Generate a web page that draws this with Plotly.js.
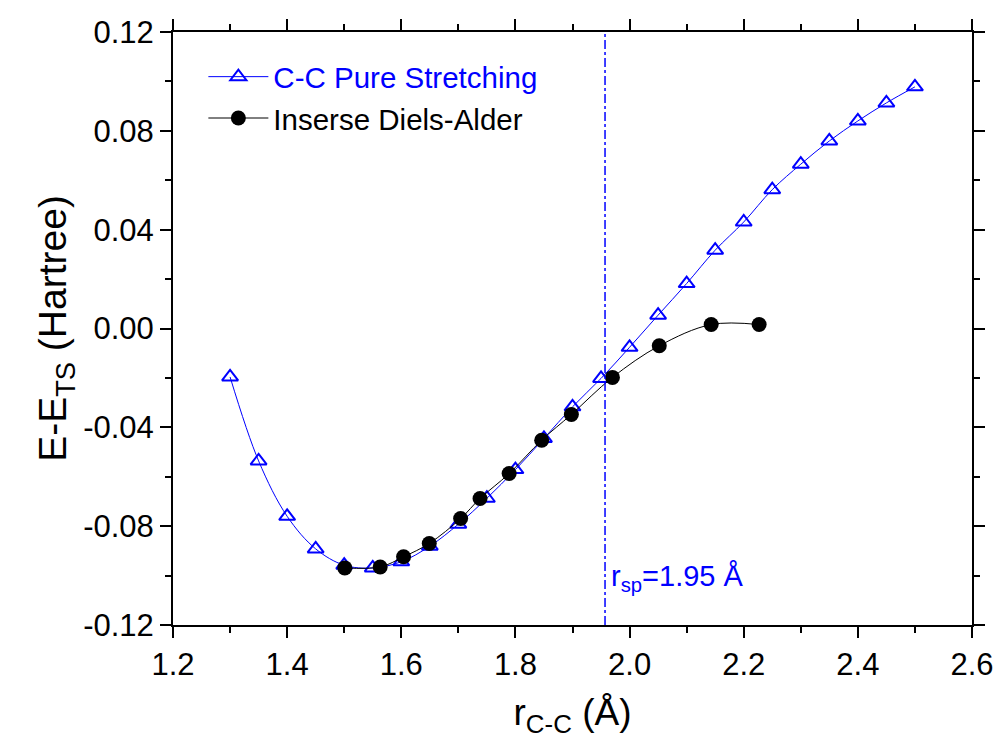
<!DOCTYPE html>
<html>
<head>
<meta charset="utf-8">
<script src="https://cdn.plot.ly/plotly-3.0.1.min.js"></script>
<style>html,body{margin:0;padding:0;background:#fff;}#chart{width:997px;height:738px;}</style>
</head>
<body>
<div id="chart"></div>
<script>
// C-C Pure Stretching
const stretchR = [1.30,1.35,1.40,1.45,1.50,1.55,1.60,1.65,1.70,1.75,1.80,1.85,1.90,1.95,2.00,2.05,2.10,2.15,2.20,2.25,2.30,2.35,2.40,2.45,2.50];
const stretchE = [-0.0196,-0.0536,-0.0760,-0.0892,-0.0958,-0.0969,-0.0944,-0.0881,-0.0792,-0.0687,-0.0571,-0.0445,-0.0317,-0.0202,-0.0076,0.0054,0.0182,0.0317,0.0431,0.0562,0.0665,0.0759,0.0840,0.0913,0.0978];
// Inverse Diels-Alder
const idaR = [1.501,1.563,1.604,1.649,1.704,1.738,1.789,1.846,1.898,1.970,2.052,2.143,2.227];
const idaE = [-0.0969,-0.0965,-0.0924,-0.0870,-0.0769,-0.0688,-0.0587,-0.0452,-0.0348,-0.0198,-0.0070,0.0016,0.0016];
const rsp = 1.957;
const rspLabel = 'r<sub>sp</sub>=1.95 Å';

const FONT = 'Liberation Sans, Arial, sans-serif';
const traces = [
  {x: stretchR, y: stretchE, mode: 'lines+markers', type: 'scatter',
   name: '<span style="color:#0000ff">C-C Pure Stretching</span>',
   line: {color: '#0000ff', width: 1, shape: 'spline'},
   marker: {symbol: 'triangle-up-open', size: 14, color: '#0000ff', line: {width: 2, color: '#0000ff'}}},
  {x: idaR, y: idaE, mode: 'lines+markers', type: 'scatter',
   name: 'Inserse Diels-Alder',
   line: {color: '#000000', width: 1, shape: 'spline'},
   marker: {symbol: 'circle', size: 15, color: '#000000'}}
];
const axisCommon = {
  showline: true, linecolor: '#000', linewidth: 2, mirror: 'allticks',
  ticks: 'outside', ticklen: 11, tickwidth: 2, tickcolor: '#000',
  showgrid: false, zeroline: false,
  tickfont: {family: FONT, size: 31, color: '#000'}
};
const layout = {
  width: 997, height: 738,
  margin: {l: 173, r: 25, t: 32, b: 113},
  paper_bgcolor: '#fff', plot_bgcolor: '#fff',
  font: {family: FONT, color: '#000'},
  showlegend: true,
  legend: {x: 0.038, y: 0.968, xanchor: 'left', yanchor: 'top', bgcolor: 'rgba(0,0,0,0)',
           font: {family: FONT, size: 29.5, color: '#000'}, tracegroupgap: 0, itemwidth: 60},
  xaxis: Object.assign({}, axisCommon, {
    range: [1.2, 2.6], tickvals: [1.2,1.4,1.6,1.8,2.0,2.2,2.4,2.6], ticktext: ['1.2','1.4','1.6','1.8','2.0','2.2','2.4','2.6'],
    minor: {dtick: 0.1, tick0: 1.2, ticks: 'outside', ticklen: 6, tickwidth: 2, tickcolor: '#000'},
    title: {text: 'r<sub>C-C</sub> (Å)', font: {family: FONT, size: 37, color: '#000'}, standoff: 20}
  }),
  yaxis: Object.assign({}, axisCommon, {
    range: [-0.12, 0.12], tickvals: [-0.12,-0.08,-0.04,0,0.04,0.08,0.12], ticktext: ['-0.12','-0.08','-0.04','0.00','0.04','0.08','0.12'],
    minor: {dtick: 0.02, tick0: 0, ticks: 'outside', ticklen: 6, tickwidth: 2, tickcolor: '#000'},
    title: {text: 'E-E<sub>TS</sub> (Hartree)', font: {family: FONT, size: 39, color: '#000'}, standoff: 4}
  }),
  shapes: [{type: 'line', xref: 'x', yref: 'paper', x0: rsp, x1: rsp, y0: 0, y1: 1,
            line: {color: '#0000ff', width: 1.5, dash: 'dashdot'}}],
  annotations: [{x: rsp, y: -0.101, xref: 'x', yref: 'y', xanchor: 'left', yanchor: 'middle', xshift: 4,
                 text: rspLabel, showarrow: false, font: {family: FONT, size: 29, color: '#0000ff'}}]
};
Plotly.newPlot('chart', traces, layout, {displayModeBar: false, staticPlot: true});
</script>
</body>
</html>
